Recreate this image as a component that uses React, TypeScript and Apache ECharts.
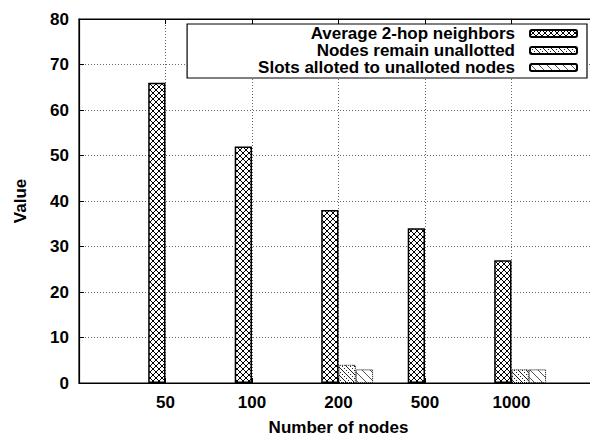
import React, { useEffect, useRef } from "react";
import * as echarts from "echarts";

const categories = ["", "50", "100", "200", "500", "1000", ""];
const seriesNames = [
  "Average 2-hop neighbors",
  "Nodes remain unallotted",
  "Slots alloted to unalloted nodes",
];
const avgNeighbors = ["-", 66, 52, 38, 34, 27, "-"];
const nodesUnallotted = ["-", 0, 0, 4, 0, 3, "-"];
const slotsAlloted = ["-", 0, 0, 3, 0, 3, "-"];
const yTicks = { min: 0, max: 80, interval: 10 };

const FONT = "'Liberation Sans', Arial, Helvetica, sans-serif";

function makeCanvas(size: number, draw: (ctx: CanvasRenderingContext2D) => void) {
  const c = document.createElement("canvas");
  c.width = size;
  c.height = size;
  const ctx = c.getContext("2d") as CanvasRenderingContext2D;
  ctx.fillStyle = "#fff";
  ctx.fillRect(0, 0, size, size);
  draw(ctx);
  return c;
}

function pattern(c: HTMLCanvasElement) {
  return { image: c, repeat: "repeat", imageWidth: c.width, imageHeight: c.height } as any;
}

// zero-height boxes are invisible in the reference: drop their border
function toData(values: any[]) {
  return values.map((v) => (v === 0 ? { value: 0, itemStyle: { borderWidth: 0 } } : v));
}

export default function App() {
  const ref = useRef<HTMLDivElement>(null);
  useEffect(() => {
    if (!ref.current) return;
    const chart = echarts.init(ref.current, null, { renderer: "svg" });

    const cross = makeCanvas(6, (ctx) => {
      ctx.strokeStyle = "#000";
      ctx.lineWidth = 1;
      ctx.beginPath();
      ctx.moveTo(-1, -1);
      ctx.lineTo(7, 7);
      ctx.moveTo(7, -1);
      ctx.lineTo(-1, 7);
      ctx.stroke();
    });
    const dots = makeCanvas(8, (ctx) => {
      ctx.fillStyle = "#222";
      const pts = [
        [0, 0], [2, 2], [4, 4], [6, 6], [6, 2], [2, 6], [4, 0], [0, 4],
        [1, 5], [5, 1], [3, 7], [7, 3],
      ];
      pts.forEach(([x, y]) => ctx.fillRect(x, y, 1, 1));
    });
    const diag = makeCanvas(8, (ctx) => {
      ctx.strokeStyle = "#555";
      ctx.lineWidth = 1;
      ctx.beginPath();
      ctx.moveTo(-1, -1);
      ctx.lineTo(9, 9);
      ctx.moveTo(-1, 7);
      ctx.lineTo(1, 9);
      ctx.moveTo(7, -1);
      ctx.lineTo(9, 1);
      ctx.stroke();
    });

    const gridLine = { color: "#666", width: 1, type: [1, 2] as any };
    const inner = (i: number) => i > 0 && i < categories.length - 1;

    chart.setOption({
      animation: false,
      textStyle: { fontFamily: FONT },
      grid: {
        left: 79,
        top: 19,
        right: 22,
        bottom: 54,
        show: true,
        borderColor: "#000",
        borderWidth: 1.2,
        containLabel: false,
        outerBoundsMode: "none",
      },
      legend: {
        data: seriesNames,
        orient: "vertical",
        right: 33,
        top: 24,
        align: "right",
        itemWidth: 47,
        itemHeight: 7,
        itemGap: 0,
        padding: [1, 9, 2, 71],
        backgroundColor: "#fff",
        borderColor: "#000",
        borderWidth: 1.2,
        borderRadius: 0,
        textStyle: {
          fontFamily: FONT,
          fontWeight: "bold",
          fontSize: 17,
          color: "#000",
          lineHeight: 17,
          padding: [0, 10, 0, 0],
        },
      },
      xAxis: [
        {
          type: "category",
          data: categories,
          boundaryGap: false,
          position: "bottom",
          name: "Number of nodes",
          nameLocation: "middle",
          nameGap: 36,
          nameTextStyle: { fontFamily: FONT, fontWeight: "bold", fontSize: 17, color: "#000" },
          axisLine: { lineStyle: { color: "#000", width: 1.2 } },
          axisTick: { inside: true, length: 5, interval: inner, lineStyle: { color: "#000" } },
          axisLabel: {
            interval: 0,
            margin: 11,
            fontFamily: FONT,
            fontWeight: "bold",
            fontSize: 17,
            color: "#000",
          },
          splitLine: { show: true, interval: inner, lineStyle: gridLine },
        },
        {
          type: "category",
          data: categories,
          boundaryGap: false,
          position: "top",
          axisLine: { show: true, lineStyle: { color: "#000", width: 1.2 } },
          axisTick: { inside: true, length: 5, interval: inner, lineStyle: { color: "#000" } },
          axisLabel: { show: false },
          splitLine: { show: false },
        },
      ],
      yAxis: {
        type: "value",
        min: yTicks.min,
        max: yTicks.max,
        interval: yTicks.interval,
        name: "Value",
        nameLocation: "middle",
        nameGap: 50,
        nameTextStyle: { fontFamily: FONT, fontWeight: "bold", fontSize: 17, color: "#000" },
        axisLine: { show: true, lineStyle: { color: "#000", width: 1.2 } },
        axisTick: { show: true, inside: true, length: 5, lineStyle: { color: "#000" } },
        axisLabel: { margin: 10, fontFamily: FONT, fontWeight: "bold", fontSize: 17, color: "#000" },
        splitLine: { show: true, lineStyle: gridLine },
      },
      series: [
        {
          name: "_spacer",
          type: "bar",
          data: categories.map(() => "-"),
          barWidth: "20%",
          barGap: "0%",
        },
        {
          name: seriesNames[0],
          type: "bar",
          data: toData(avgNeighbors),
          barWidth: "20%",
          barGap: "0%",
          itemStyle: { color: pattern(cross), borderColor: "#000", borderWidth: 1.5 },
        },
        {
          name: seriesNames[1],
          type: "bar",
          data: toData(nodesUnallotted),
          barWidth: "20%",
          barGap: "0%",
          itemStyle: { color: pattern(dots), borderColor: "#000", borderWidth: 1, borderType: "dotted" },
        },
        {
          name: seriesNames[2],
          type: "bar",
          data: toData(slotsAlloted),
          barWidth: "20%",
          barGap: "0%",
          itemStyle: { color: pattern(diag), borderColor: "#000", borderWidth: 1, borderType: "dotted" },
        },
      ],
    });
    return () => chart.dispose();
  }, []);

  return (
    <div style={{ position: "fixed", left: 0, top: 0, width: 590, height: 437, overflow: "hidden", background: "#fff" }}>
      <div ref={ref} style={{ width: 620, height: 437 }} />
    </div>
  );
}
